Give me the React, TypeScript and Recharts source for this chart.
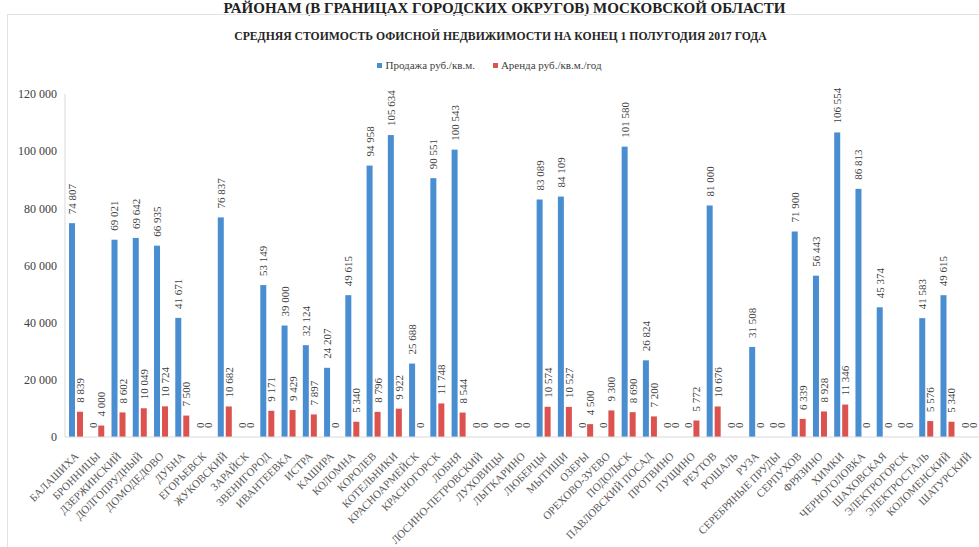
import { BarChart, Bar, XAxis, YAxis, Legend } from "recharts";

const cities = [
  "БАЛАШИХА", "БРОННИЦЫ", "ДЗЕРЖИНСКИЙ", "ДОЛГОПРУДНЫЙ", "ДОМОДЕДОВО", "ДУБНА",
  "ЕГОРЬЕВСК", "ЖУКОВСКИЙ", "ЗАРАЙСК", "ЗВЕНИГОРОД", "ИВАНТЕЕВКА", "ИСТРА",
  "КАШИРА", "КОЛОМНА", "КОРОЛЕВ", "КОТЕЛЬНИКИ", "КРАСНОАРМЕЙСК", "КРАСНОГОРСК",
  "ЛОБНЯ", "ЛОСИНО-ПЕТРОВСКИЙ", "ЛУХОВИЦЫ", "ЛЫТКАРИНО", "ЛЮБЕРЦЫ", "МЫТИЩИ",
  "ОЗЕРЫ", "ОРЕХОВО-ЗУЕВО", "ПОДОЛЬСК", "ПАВЛОВСКИЙ ПОСАД", "ПРОТВИНО", "ПУЩИНО",
  "РЕУТОВ", "РОШАЛЬ", "РУЗА", "СЕРЕБРЯНЫЕ ПРУДЫ", "СЕРПУХОВ", "ФРЯЗИНО",
  "ХИМКИ", "ЧЕРНОГОЛОВКА", "ШАХОВСКАЯ", "ЭЛЕКТРОГОРСК", "ЭЛЕКТРОСТАЛЬ",
  "КОЛОМЕНСКИЙ", "ШАТУРСКИЙ",
];

// Продажа руб./кв.м.
const sale = [
  74807, 0, 69021, 69642, 66935, 41671,
  0, 76837, 0, 53149, 39000, 32124,
  24207, 49615, 94958, 105634, 25688, 90551,
  100543, 0, 0, 0, 83089, 84109,
  0, 0, 101580, 26824, 0, 0,
  81000, 0, 31508, 0, 71900, 56443,
  106554, 86813, 45374, 0, 41583,
  49615, 0,
];

// Аренда руб./кв.м./год
const rent = [
  8839, 4000, 8602, 10049, 10724, 7500,
  0, 10682, 0, 9171, 9429, 7897,
  0, 5340, 8796, 9922, 0, 11748,
  8544, 0, 0, 0, 10574, 10527,
  4500, 9300, 8690, 7200, 0, 5772,
  10676, 0, 0, 0, 6339, 8928,
  11346, 0, 0, 0, 5576,
  5340, 0,
];

const yTicks = [0, 20000, 40000, 60000, 80000, 100000, 120000];

const SALE_COLOR = "#4a8ed2";
const RENT_COLOR = "#dc524e";
const FONT = "'Liberation Serif', 'DejaVu Serif', serif";

const chartData = cities.map((city, i) => ({ city, sale: sale[i], rent: rent[i] }));

function spaced(value: number) {
  return String(value).replace(/\B(?=(\d{3})+(?!\d))/g, " ");
}

// bar + its rotated value label (zero-height bars still get their "0")
function labeledBar(color: string) {
  return (props: any) => {
    const { x, y, width, height, value } = props;
    const v = Array.isArray(value) ? value[1] - value[0] : Number(value);
    const cx = Number(x) + Number(width) / 2;
    const ty = Number(y) - 9;
    return (
      <g>
        {height > 0 && <rect x={x} y={y} width={width} height={height} fill={color} />}
        <text
          x={cx}
          y={ty}
          transform={`rotate(-90 ${cx} ${ty})`}
          textAnchor="start"
          dominantBaseline="central"
          fontSize={11}
          fontFamily={FONT}
          fill="#404040"
        >
          {spaced(v)}
        </text>
      </g>
    );
  };
}

function CityTick(props: any) {
  const { x, y, payload } = props;
  const tx = x + 1;
  const ty = y + 9;
  return (
    <text
      x={tx}
      y={ty}
      transform={`rotate(-45 ${tx} ${ty})`}
      textAnchor="end"
      dominantBaseline="central"
      fontSize={11}
      fontFamily={FONT}
      fill="#595959"
    >
      {payload.value}
    </text>
  );
}

function LegendContent() {
  const items = [
    { label: "Продажа руб./кв.м.", color: SALE_COLOR },
    { label: "Аренда руб./кв.м./год", color: RENT_COLOR },
  ];
  return (
    <div style={{ display: "flex", justifyContent: "center", gap: 18, fontFamily: FONT, fontSize: 11, color: "#404040" }}>
      {items.map((it) => (
        <span key={it.label} style={{ display: "flex", alignItems: "center" }}>
          <span style={{ width: 5, height: 5, background: it.color, marginRight: 3, display: "inline-block" }} />
          {it.label}
        </span>
      ))}
    </div>
  );
}

export default function App() {
  return (
    <div style={{ position: "absolute", left: 0, top: 0, width: 979, height: 547, background: "#fff", overflow: "hidden" }}>
      <div
        style={{
          position: "absolute", left: 15, top: 2, width: 979, textAlign: "center", lineHeight: "13px",
          fontFamily: FONT, fontWeight: "bold", fontSize: 15, color: "#222", whiteSpace: "nowrap",
        }}
      >
        РАЙОНАМ (В ГРАНИЦАХ ГОРОДСКИХ ОКРУГОВ) МОСКОВСКОЙ ОБЛАСТИ
      </div>
      <div style={{ position: "absolute", left: 7, top: 14, width: 975, height: 540, border: "1px solid #e3e3e3" }} />
      <div
        style={{
          position: "absolute", left: 11, top: 30, width: 979, textAlign: "center",
          fontFamily: FONT, fontWeight: "bold", fontSize: 11.7, color: "#262626",
        }}
      >
        СРЕДНЯЯ СТОИМОСТЬ ОФИСНОЙ НЕДВИЖИМОСТИ НА КОНЕЦ 1 ПОЛУГОДИЯ 2017 ГОДА
      </div>
      <div style={{ position: "absolute", left: 0, top: 0 }}>
        <BarChart
          width={979}
          height={547}
          data={chartData}
          margin={{ top: 94, right: 0, bottom: 0, left: 0 }}
          barSize={6}
          barGap={2}
        >
          <XAxis
            dataKey="city"
            interval={0}
            height={110}
            tickLine={false}
            axisLine={{ stroke: "#d9d9d9" }}
            tick={<CityTick />}
          />
          <YAxis
            width={65}
            domain={[0, 120000]}
            ticks={yTicks}
            tickLine={false}
            axisLine={{ stroke: "#d9d9d9" }}
            tickFormatter={spaced}
            tick={{ fontSize: 12, fontFamily: FONT, fill: "#404040" }}
          />
          <Legend
            verticalAlign="middle"
            align="center"
            layout="horizontal"
            wrapperStyle={{ top: 59, left: 0, width: 979 }}
            content={<LegendContent />}
          />
          <Bar
            dataKey="sale"
            name="Продажа руб./кв.м."
            fill={SALE_COLOR}
            isAnimationActive={false}
            shape={labeledBar(SALE_COLOR)}
          />
          <Bar
            dataKey="rent"
            name="Аренда руб./кв.м./год"
            fill={RENT_COLOR}
            isAnimationActive={false}
            shape={labeledBar(RENT_COLOR)}
          />
        </BarChart>
      </div>
    </div>
  );
}
